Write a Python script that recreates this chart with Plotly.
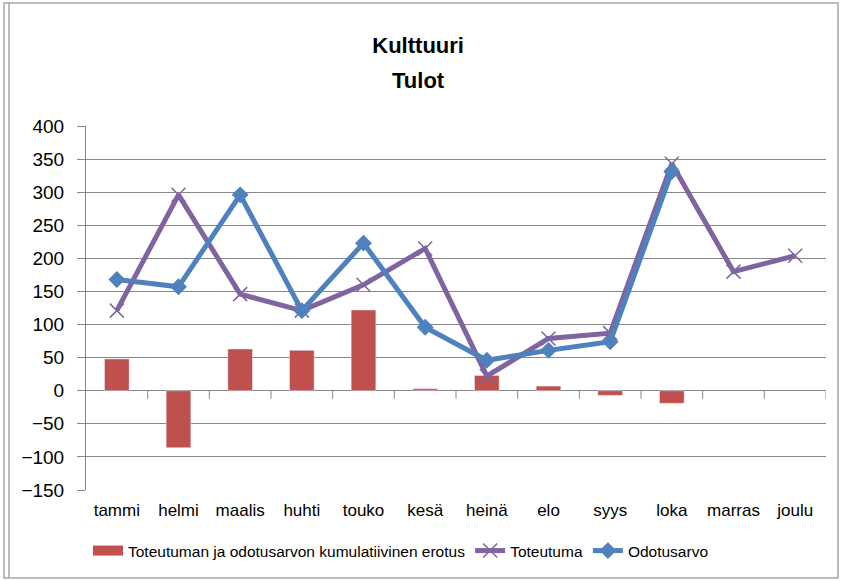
import plotly.graph_objects as go

months = ["tammi", "helmi", "maalis", "huhti", "touko", "kesä",
          "heinä", "elo", "syys", "loka", "marras", "joulu"]
erotus = [48, -86, 63, 61, 122, 3, 23, 7, -7, -19, None, None]
toteutuma = [121, 296, 146, 121, 160, 215, 22, 79, 87, 343, 180, 204]
odotusarvo = [168, 157, 296, 121, 223, 96, 46, 61, 74, 331, None, None]

bar_name = "Toteutuman ja odotusarvon kumulatiivinen erotus"
red, purple, blue = "#C0504D", "#8064A2", "#4F81BD"

W, H = 843, 581
L, R, T, B = 86, 17, 126, 91
pw, ph = W - L - R, H - T - B

def px(x):
    return (x - L) / pw

def py(y):
    return (H - B - y) / ph

grid = "#878787"
font = "Liberation Sans, Arial, sans-serif"

fig = go.Figure()
fig.add_trace(go.Bar(x=months, y=erotus, name=bar_name, showlegend=False,
                     marker=dict(color=red)))
# legend entry for the bars drawn as a wide swatch like Excel does
fig.add_trace(go.Scatter(x=[None], y=[None], name=bar_name, mode="lines",
                         line=dict(color=red, width=12)))
fig.add_trace(go.Scatter(x=months, y=toteutuma, name="Toteutuma", mode="lines+markers",
                         line=dict(color=purple, width=5),
                         marker=dict(symbol="x-thin", size=14, line=dict(color=purple, width=1.5))))
fig.add_trace(go.Scatter(x=months, y=odotusarvo, name="Odotusarvo", mode="lines+markers",
                         line=dict(color=blue, width=5),
                         marker=dict(symbol="diamond", size=13, color=blue)))

# small tick marks on the zero line at the category boundaries
shapes = []
for i in range(1, len(months) + 1):
    shapes.append(dict(type="line", xref="x", yref="y", x0=i - 0.5, x1=i - 0.5,
                       y0=0, y1=-12, line=dict(color=grid, width=1)))
# chart frame
shapes.append(dict(type="rect", xref="paper", yref="paper", x0=px(4), x1=px(838),
                   y0=py(578), y1=py(3), line=dict(color="#a6a6a6", width=1.5)))
shapes.append(dict(type="line", xref="paper", yref="paper", x0=px(9), x1=px(9),
                   y0=py(578), y1=py(3), line=dict(color="#a6a6a6", width=1.5)))

fig.update_layout(
    width=W, height=H, autosize=False,
    margin=dict(l=L, r=R, t=T, b=B),
    paper_bgcolor="white", plot_bgcolor="white",
    font=dict(family=font, color="black"),
    title=dict(text="<span style='font-size:22px'><b>Kulttuuri</b></span><br>"
                    "<span style='font-size:22px'><b>Tulot</b></span>",
               x=0.496, xanchor="center", y=1 - 53 / H, yanchor="middle",
               font=dict(size=27, color="black")),
    bargap=0.6,
    showlegend=True,
    legend=dict(orientation="h", x=px(88), xanchor="left", y=py(551), yanchor="middle",
                font=dict(size=15.5), bgcolor="rgba(0,0,0,0)"),
    xaxis=dict(type="category", showgrid=False, showline=False, ticks="",
               range=[-0.5, len(months) - 0.5], tickfont=dict(size=17),
               ticklabelstandoff=8),
    yaxis=dict(range=[-150, 400], dtick=50, showgrid=True, gridcolor=grid, gridwidth=1,
               zeroline=True, zerolinecolor=grid, zerolinewidth=1,
               showline=True, linecolor=grid, linewidth=1,
               ticks="outside", ticklen=8, tickcolor=grid,
               tickfont=dict(size=19), ticklabelstandoff=9),
    shapes=shapes,
)

fig.write_html("out.html", config={"displayModeBar": False},
               post_script="document.body.style.margin='0';")
